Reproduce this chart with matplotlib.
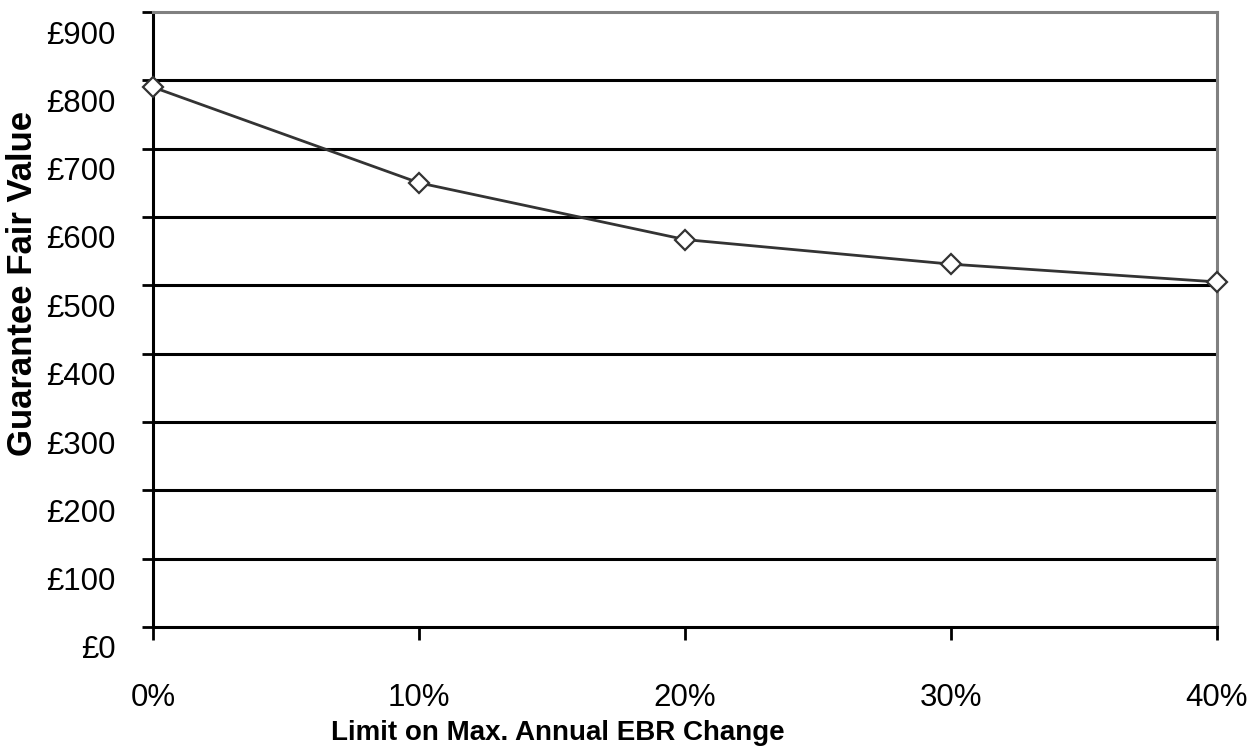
import matplotlib
matplotlib.use('Agg')
import matplotlib.pyplot as plt
import matplotlib.transforms as mtransforms
from matplotlib.ticker import FuncFormatter

# values
limit_pct = [0.0, 0.10, 0.20, 0.30, 0.40]
fair_value = [790, 650, 567, 531, 505]
y_ticks = [0, 100, 200, 300, 400, 500, 600, 700, 800, 900]
x_ticks = [0.0, 0.10, 0.20, 0.30, 0.40]

plt.rcParams['font.family'] = ['Liberation Sans', 'DejaVu Sans']

fig = plt.figure(figsize=(12.57, 7.5), dpi=100)
ax = fig.add_axes([153 / 1257, 123 / 750, (1217 - 153) / 1257, (627 - 12) / 750])

# horizontal grid lines
for v in y_ticks[1:-1]:
    ax.axhline(v, color='black', lw=2.2, zorder=1)

ax.plot(limit_pct, fair_value, color='#333333', lw=2, marker='D', markersize=10,
        markerfacecolor='white', markeredgecolor='#333333', markeredgewidth=1.6,
        zorder=3, clip_on=False)

ax.set_xlim(0, 0.4)
ax.set_ylim(0, 900)
ax.set_xticks(x_ticks)
ax.set_yticks(y_ticks)
ax.xaxis.set_major_formatter(FuncFormatter(lambda v, p: '{:.0f}%'.format(v * 100)))
ax.yaxis.set_major_formatter(FuncFormatter(lambda v, p: '£{:.0f}'.format(v)))

ax.tick_params(axis='y', direction='out', length=8, width=2, pad=19, labelsize=22.5)
ax.tick_params(axis='x', direction='out', length=9, width=2, pad=31, labelsize=22.5)

# labels sit a little below their ticks, as in the original
offset = mtransforms.ScaledTranslation(0, -0.2, fig.dpi_scale_trans)
for lab in ax.get_yticklabels():
    lab.set_transform(lab.get_transform() + offset)

for side in ['left', 'bottom']:
    ax.spines[side].set_color('black')
    ax.spines[side].set_linewidth(2.2)
for side in ['top', 'right']:
    ax.spines[side].set_color('#808080')
    ax.spines[side].set_linewidth(2.2)

fig.text(23 / 1257, 1 - 283 / 750, 'Guarantee Fair Value', rotation=90,
         ha='center', va='center', fontsize=25, fontweight='bold')
fig.text(558 / 1257, 1 - 733 / 750, 'Limit on Max. Annual EBR Change',
         ha='center', va='center', fontsize=20, fontweight='bold')

fig.savefig('out.png', dpi=100)
